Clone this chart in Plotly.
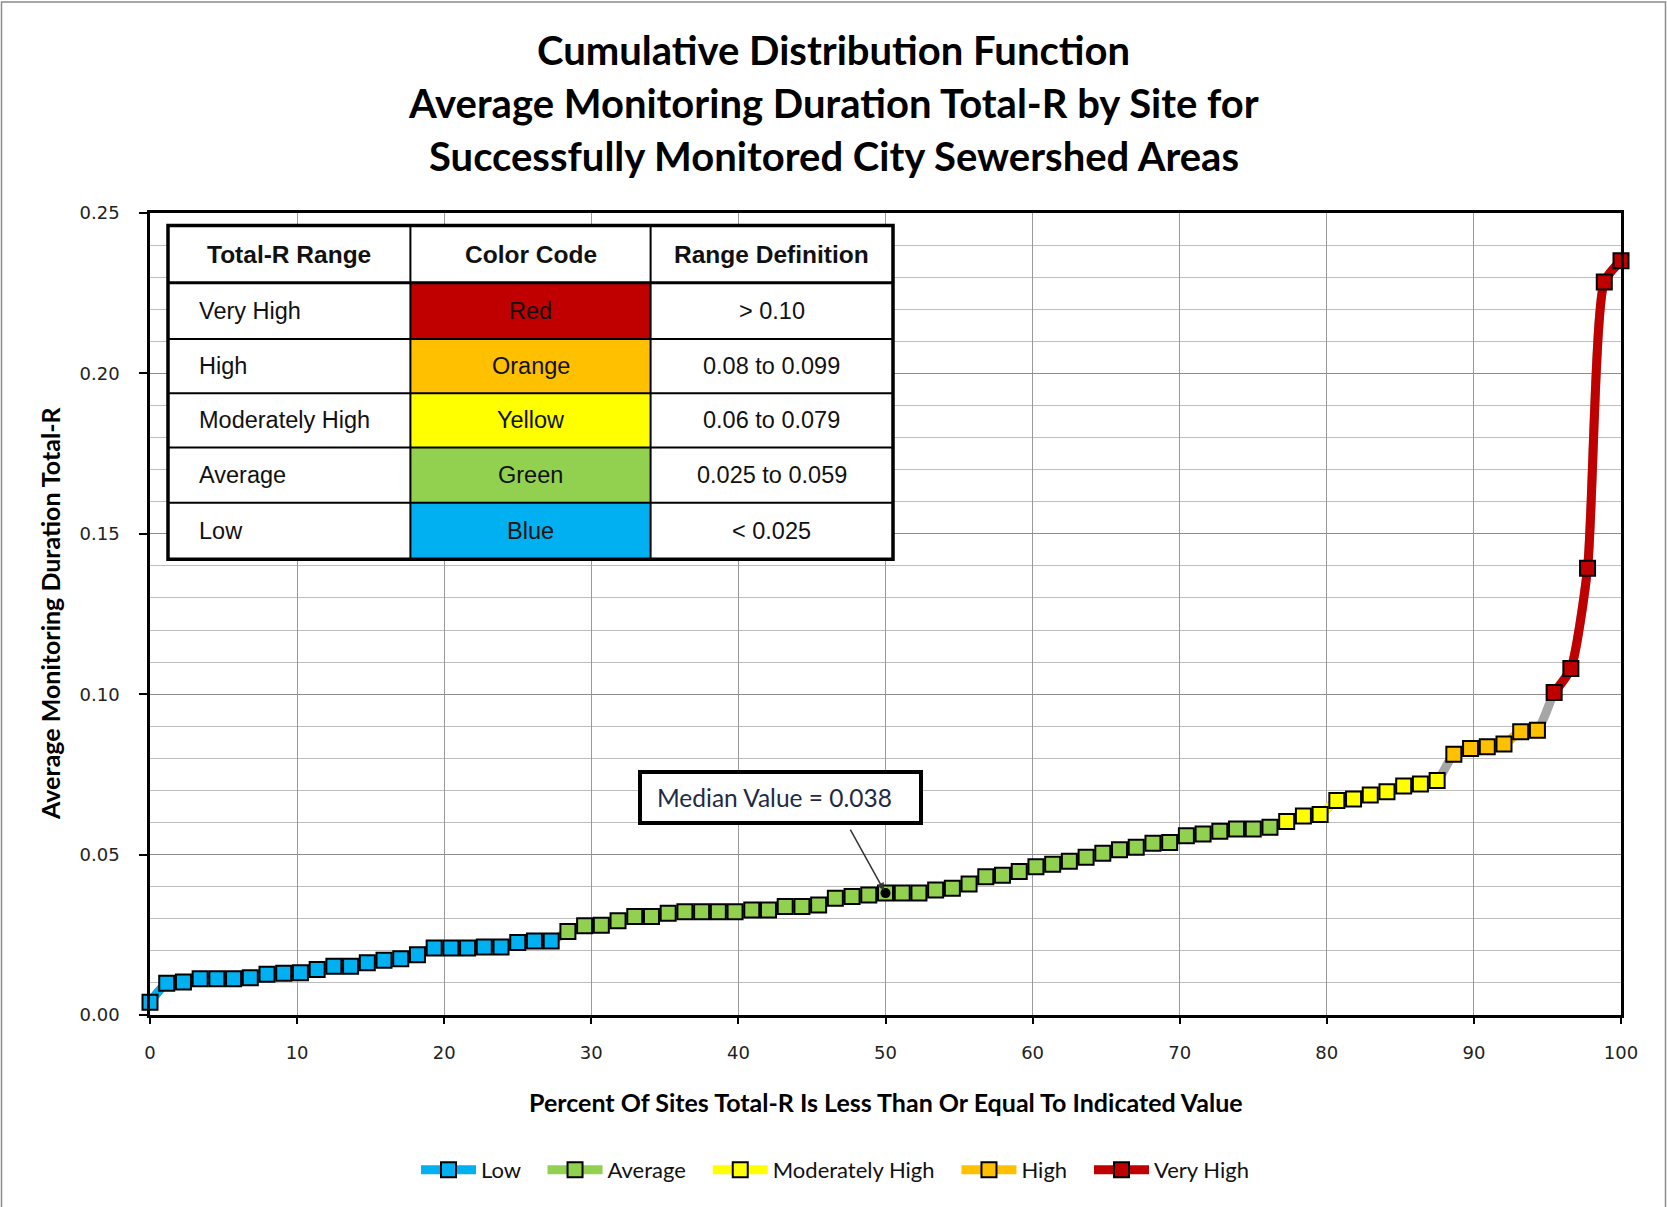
import numpy as np
import plotly.graph_objects as go

# Average monitoring duration Total-R per site, sorted ascending and grouped by range class
low_vals = [0.0040, 0.0099, 0.0103, 0.0113, 0.0113, 0.0113, 0.0116, 0.0127, 0.0130, 0.0132,
            0.0142, 0.0152, 0.0152, 0.0163, 0.0171, 0.0175, 0.0188, 0.0209, 0.0209, 0.0209,
            0.0212, 0.0212, 0.0226, 0.0231, 0.0231]
average_vals = [0.0260, 0.0278, 0.0280, 0.0294, 0.0307, 0.0307, 0.0317, 0.0322, 0.0322, 0.0322,
                0.0322, 0.0327, 0.0327, 0.0338, 0.0338, 0.0343, 0.0364, 0.0369, 0.0374, 0.0380,
                0.0380, 0.0380, 0.0390, 0.0395, 0.0408, 0.0431, 0.0436, 0.0447, 0.0462, 0.0470,
                0.0479, 0.0492, 0.0504, 0.0515, 0.0523, 0.0535, 0.0538, 0.0559, 0.0564, 0.0573,
                0.0580, 0.0580, 0.0585]
mod_high_vals = [0.0603, 0.0620, 0.0625, 0.0669, 0.0673, 0.0686, 0.0696, 0.0714, 0.0720, 0.0731]
high_vals = [0.0813, 0.0831, 0.0836, 0.0845, 0.0883, 0.0888]
very_high_vals = [0.1005, 0.1080, 0.1393, 0.2285, 0.2351]

series_names = ["Low", "Average", "Moderately High", "High", "Very High"]
series_colors = ["#00B0F0", "#92D050", "#FFFF00", "#FFC000", "#C00000"]

# Range table rows
table_header = ["Total-R Range", "Color Code", "Range Definition"]
table_ranges = ["Very High", "High", "Moderately High", "Average", "Low"]
table_colors = ["Red", "Orange", "Yellow", "Green", "Blue"]
table_fills = ["#C00000", "#FFC000", "#FFFF00", "#92D050", "#00B0F0"]
table_defs = ["> 0.10", "0.08 to 0.099", "0.06 to 0.079", "0.025 to 0.059", "< 0.025"]

groups = [low_vals, average_vals, mod_high_vals, high_vals, very_high_vals]
all_vals = np.concatenate(groups)
n = len(all_vals)
pct = np.arange(n) / (n - 1) * 100.0
median_val = float(np.median(all_vals))
median_pct = float(pct[n // 2])

# Figure geometry (pixels)
W, H = 1667, 1207
L, R, T, B = 150, 46, 213, 192
PW, PH = W - L - R, H - T - B


def px(xp):
    return (xp - L) / PW


def py(yp):
    return (H - B - yp) / PH


fig = go.Figure()

# grey connector running through every site
fig.add_trace(go.Scatter(
    x=pct, y=all_vals, mode="lines", showlegend=False, hoverinfo="skip",
    line=dict(color="#A6A6A6", width=9, shape="spline", smoothing=0.6),
    cliponaxis=False,
))

start = 0
for idx, (name, color, vals) in enumerate(zip(series_names, series_colors, groups)):
    k = len(vals)
    # pad legend entries so the items sit further apart
    label = name + ("\u00a0\u00a0\u00a0" if idx < len(series_names) - 1 else "")
    fig.add_trace(go.Scatter(
        x=pct[start:start + k], y=vals, name=label, mode="lines+markers",
        line=dict(color=color, width=9, shape="spline", smoothing=0.6),
        marker=dict(symbol="square", size=15, color=color,
                    line=dict(color="#000000", width=2)),
        cliponaxis=False,
    ))
    start += k

# median marker
fig.add_trace(go.Scatter(
    x=[median_pct], y=[median_val], mode="markers", showlegend=False,
    marker=dict(symbol="circle", size=10, color="#000000"), cliponaxis=False,
))

shapes = []
annotations = []

# outer chart border
shapes.append(dict(type="rect", xref="paper", yref="paper",
                   x0=px(1.5), x1=px(W - 1.5), y0=py(H + 20), y1=py(2),
                   line=dict(color="#8C8C8C", width=1.5), layer="below"))

# range table
tx = [168, 410.4, 650.6, 893]
ty = [225.4, 282.8, 339.1, 393.3, 447.6, 502.8, 559.2]
shapes.append(dict(type="rect", xref="paper", yref="paper",
                   x0=px(tx[0]), x1=px(tx[3]), y0=py(ty[6]), y1=py(ty[0]),
                   fillcolor="white", line=dict(width=0), layer="above"))
for i, fill in enumerate(table_fills):
    shapes.append(dict(type="rect", xref="paper", yref="paper",
                       x0=px(tx[1]), x1=px(tx[2]), y0=py(ty[i + 2]), y1=py(ty[i + 1]),
                       fillcolor=fill, line=dict(width=0), layer="above"))
for j in range(2, 6):
    shapes.append(dict(type="line", xref="paper", yref="paper",
                       x0=px(tx[0]), x1=px(tx[3]), y0=py(ty[j]), y1=py(ty[j]),
                       line=dict(color="#000000", width=2), layer="above"))
shapes.append(dict(type="line", xref="paper", yref="paper",
                   x0=px(tx[0]), x1=px(tx[3]), y0=py(ty[1]), y1=py(ty[1]),
                   line=dict(color="#000000", width=3), layer="above"))
for c in (1, 2):
    shapes.append(dict(type="line", xref="paper", yref="paper",
                       x0=px(tx[c]), x1=px(tx[c]), y0=py(ty[6]), y1=py(ty[0]),
                       line=dict(color="#000000", width=2), layer="above"))
shapes.append(dict(type="rect", xref="paper", yref="paper",
                   x0=px(tx[0]), x1=px(tx[3]), y0=py(ty[6]), y1=py(ty[0]),
                   line=dict(color="#000000", width=3.5), layer="above"))

tfont = dict(family="Liberation Sans, Arial, sans-serif", size=23.5, color="#111111")
hfont = dict(family="Liberation Sans, Arial, sans-serif", size=24.5, color="#111111")
head_y = (ty[0] + ty[1]) / 2
for c, txt in enumerate(table_header):
    annotations.append(dict(xref="paper", yref="paper", x=px((tx[c] + tx[c + 1]) / 2),
                            y=py(head_y), text="<b>%s</b>" % txt, showarrow=False,
                            xanchor="center", yanchor="middle", font=hfont))
for i in range(5):
    yc = py((ty[i + 1] + ty[i + 2]) / 2)
    annotations.append(dict(xref="paper", yref="paper", x=px(197), y=yc,
                            text=table_ranges[i], showarrow=False,
                            xanchor="left", yanchor="middle", font=tfont))
    annotations.append(dict(xref="paper", yref="paper", x=px((tx[1] + tx[2]) / 2), y=yc,
                            text=table_colors[i], showarrow=False,
                            xanchor="center", yanchor="middle", font=tfont))
    annotations.append(dict(xref="paper", yref="paper", x=px((tx[2] + tx[3]) / 2), y=yc,
                            text=table_defs[i], showarrow=False,
                            xanchor="center", yanchor="middle", font=tfont))

# title
title_font = dict(family="Lato, Calibri, sans-serif", size=40, color="#000000")
title_lines = ["Cumulative Distribution Function",
               "Average Monitoring Duration Total-R by Site for",
               "Successfully Monitored City Sewershed Areas"]
for line, yp in zip(title_lines, [50, 103, 156]):
    annotations.append(dict(xref="paper", yref="paper", x=px(W / 2), y=py(yp),
                            text="<b>%s</b>" % line, showarrow=False,
                            xanchor="center", yanchor="middle", font=title_font))

# axis titles
axis_font = dict(family="Lato, Calibri, sans-serif", size=25, color="#000000")
annotations.append(dict(xref="paper", yref="paper", x=px(50), y=0.5,
                        text="<b>Average Monitoring Duration Total-R</b>", textangle=-90,
                        showarrow=False, xanchor="center", yanchor="middle", font=axis_font))
annotations.append(dict(xref="paper", yref="paper", x=0.5, y=py(1102),
                        text="<b>Percent Of Sites Total-R Is Less Than Or Equal To Indicated Value</b>",
                        showarrow=False, xanchor="center", yanchor="middle", font=axis_font))

# median callout: bordered box plus a separate pointer arrow
shapes.append(dict(type="rect", xref="paper", yref="paper",
                   x0=px(640), x1=px(921), y0=py(823), y1=py(772),
                   fillcolor="white", line=dict(color="#000000", width=4), layer="above"))
annotations.append(dict(xref="paper", yref="paper", x=px(774), y=py(797.4),
                        text="Median Value = %.3f" % median_val, showarrow=False,
                        xanchor="center", yanchor="middle",
                        font=dict(family="Lato, Calibri, sans-serif", size=24.5, color="#1F2A44")))
annotations.append(dict(x=median_pct, y=median_val, xref="x", yref="y", text="",
                        showarrow=True, ax=-36, ay=-65, arrowhead=2, arrowsize=1,
                        arrowwidth=1.5, arrowcolor="#333333", standoff=3))

tick_font = dict(family="DejaVu Sans, Verdana, sans-serif", size=18, color="#222222")

fig.update_layout(
    width=W, height=H,
    margin=dict(l=L, r=R, t=T, b=B, autoexpand=False),
    paper_bgcolor="white", plot_bgcolor="white",
    shapes=shapes, annotations=annotations,
    showlegend=True,
    legend=dict(orientation="h", x=px(835), y=py(1170), xanchor="center", yanchor="middle",
                font=dict(family="Lato, Calibri, sans-serif", size=22, color="#111111"),
                itemwidth=55, tracegroupgap=0),
    xaxis=dict(range=[0, 100], dtick=10, tick0=0, showgrid=True, gridcolor="#9A9A9A",
               gridwidth=1.3, showline=True, linecolor="#000000", linewidth=2.5, mirror=True,
               ticks="outside", ticklen=6, tickwidth=1.5, tickcolor="#000000",
               ticklabelstandoff=14, tickfont=tick_font, zeroline=False),
    yaxis=dict(range=[0, 0.25], dtick=0.05, tick0=0, tickformat=".2f", showgrid=True,
               gridcolor="#8C8C8C", gridwidth=1.3,
               minor=dict(dtick=0.01, showgrid=True, gridcolor="#BDBDBD", gridwidth=1.3),
               showline=True, linecolor="#000000", linewidth=2.5, mirror=True,
               ticks="outside", ticklen=8, tickwidth=1.5, tickcolor="#000000",
               ticklabelstandoff=16, tickfont=tick_font, zeroline=False),
)

fig.write_html("out.html")
